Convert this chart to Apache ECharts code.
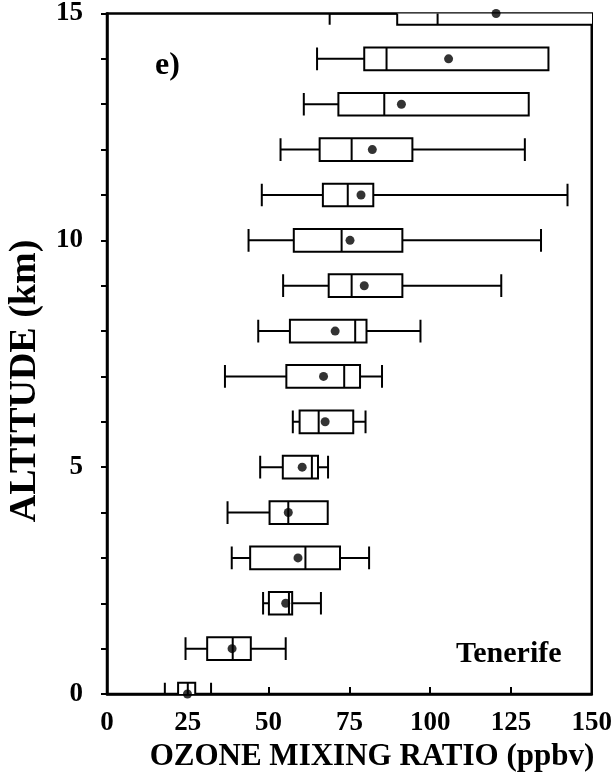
<!DOCTYPE html>
<html>
<head>
<meta charset="utf-8">
<script src="https://cdn.jsdelivr.net/npm/echarts@6/dist/echarts.min.js"></script>
<style>
  html, body { margin: 0; padding: 0; background: #fff; }
  #chart { width: 615px; height: 779px; }
</style>
</head>
<body>
<div id="chart"></div>
<script>
// altitude levels (km) and box statistics of ozone (ppbv)
var altitude = [0, 1, 2, 3, 4, 5, 6, 7, 8, 9, 10, 11, 12, 13, 14, 15];
var whiskerLow = [17.9, 24.3, 48.3, 38.6, 37.3, 47.4, 57.5, 36.5, 46.8, 54.5, 43.8, 47.9, 53.7, 60.9, 65.0, 68.9];
var quart1 = [22.0, 31.0, 50.1, 44.3, 50.3, 54.4, 59.6, 55.5, 56.6, 68.6, 57.8, 66.8, 65.8, 71.6, 79.6, 89.8];
var median = [25.0, 38.9, 56.3, 61.4, 56.1, 63.4, 65.5, 73.4, 76.8, 75.7, 72.6, 74.5, 75.7, 85.8, 86.5, 102.3];
var quart3 = [27.3, 44.5, 57.3, 72.1, 68.3, 65.3, 76.2, 78.3, 80.3, 91.4, 91.4, 82.4, 94.5, 130.5, 136.6, 160];
var whiskerHigh = [32.2, 55.3, 66.2, 81.1, 68.3, 68.4, 80.0, 85.1, 97.0, 122.0, 134.3, 142.5, 129.3, 130.5, 136.6, 160];
var meanVal = [24.9, 38.7, 55.3, 59.1, 56.1, 60.4, 67.5, 67.0, 70.6, 79.6, 75.2, 78.6, 82.1, 91.1, 105.7, 120.4];

var xTicks = [0, 25, 50, 75, 100, 125, 150];
var yTickLabels = [0, 5, 10, 15];

var FONT = '"Liberation Serif", "Times New Roman", serif';

var boxData = altitude.map(function (a, i) {
  return [a, whiskerLow[i], quart1[i], median[i], quart3[i], whiskerHigh[i]];
});
var meanData = altitude.map(function (a, i) { return [meanVal[i], a]; });

var chart = echarts.init(document.getElementById("chart"));

function renderBox(params, api) {
  var y = api.value(0);
  var lo = api.value(1), q1 = api.value(2), md = api.value(3), q3 = api.value(4), hi = api.value(5);
  var half = api.size([0, 1])[1] * 0.25;
  var pLo = api.coord([lo, y]);
  var pQ1 = api.coord([q1, y]);
  var pMd = api.coord([md, y]);
  var pQ3 = api.coord([q3, y]);
  var pHi = api.coord([hi, y]);
  var cy = pQ1[1];
  var st = { stroke: "#000", lineWidth: 2, fill: null };
  var kids = [];
  if (lo < q1) {
    kids.push({ type: "line", shape: { x1: pLo[0], y1: cy, x2: pQ1[0], y2: cy }, style: st });
    kids.push({ type: "line", shape: { x1: pLo[0], y1: cy - half, x2: pLo[0], y2: cy + half }, style: st });
  }
  if (hi > q3) {
    kids.push({ type: "line", shape: { x1: pQ3[0], y1: cy, x2: pHi[0], y2: cy }, style: st });
    kids.push({ type: "line", shape: { x1: pHi[0], y1: cy - half, x2: pHi[0], y2: cy + half }, style: st });
  }
  kids.push({
    type: "rect",
    shape: { x: pQ1[0], y: cy - half, width: pQ3[0] - pQ1[0], height: half * 2 },
    style: { stroke: "#000", lineWidth: 2, fill: "#fff" }
  });
  kids.push({ type: "line", shape: { x1: pMd[0], y1: cy - half, x2: pMd[0], y2: cy + half }, style: st });
  return { type: "group", children: kids };
}

chart.setOption({
  backgroundColor: "#fff",
  animation: false,
  grid: {
    left: 107, top: 13, width: 488, height: 681,
    show: true, borderColor: "#000", borderWidth: 2.5, backgroundColor: "transparent"
  },
  xAxis: {
    type: "value", min: 0, max: 150, interval: 25,
    axisLine: { show: true, lineStyle: { color: "#000", width: 2.5 } },
    axisTick: { show: true, inside: true, length: 7, lineStyle: { color: "#000", width: 2 } },
    axisLabel: {
      margin: 16, color: "#000", fontFamily: FONT, fontWeight: "bold", fontSize: 27,
      formatter: function (v) { return xTicks.indexOf(v) >= 0 ? String(v) : ""; }
    },
    splitLine: { show: false }
  },
  yAxis: {
    type: "value", min: 0, max: 15, interval: 1,
    axisLine: { show: true, lineStyle: { color: "#000", width: 2.5 } },
    axisTick: { show: true, inside: false, length: 6, lineStyle: { color: "#000", width: 2 } },
    axisLabel: {
      margin: 24, color: "#000", fontFamily: FONT, fontWeight: "bold", fontSize: 27,
      formatter: function (v) { return yTickLabels.indexOf(v) >= 0 ? String(v) : ""; }
    },
    splitLine: { show: false }
  },
  graphic: [
    { type: "text", left: 155, top: 50,
      style: { text: "e)", font: "bold 32px " + FONT, fill: "#000" } },
    { type: "text", left: 456, top: 639,
      style: { text: "Tenerife", font: "bold 30px " + FONT, fill: "#000" } },
    { type: "text", x: 372, y: 757,
      style: { text: "OZONE MIXING RATIO (ppbv)", font: "bold 31px " + FONT, fill: "#000",
        align: "center", verticalAlign: "middle" } },
    { type: "text", x: 25, y: 381, rotation: Math.PI / 2,
      style: { text: "ALTITUDE (km)", font: "bold 38px " + FONT, fill: "#000",
        align: "center", verticalAlign: "middle" } }
  ],
  series: [
    {
      type: "custom",
      renderItem: renderBox,
      clip: true,
      encode: { y: 0, x: [1, 2, 3, 4, 5] },
      data: boxData,
      z: 2
    },
    {
      type: "scatter",
      data: meanData,
      symbol: "circle",
      symbolSize: 9,
      itemStyle: { color: "#000" },
      clip: false,
      z: 3
    }
  ]
});
</script>
</body>
</html>
